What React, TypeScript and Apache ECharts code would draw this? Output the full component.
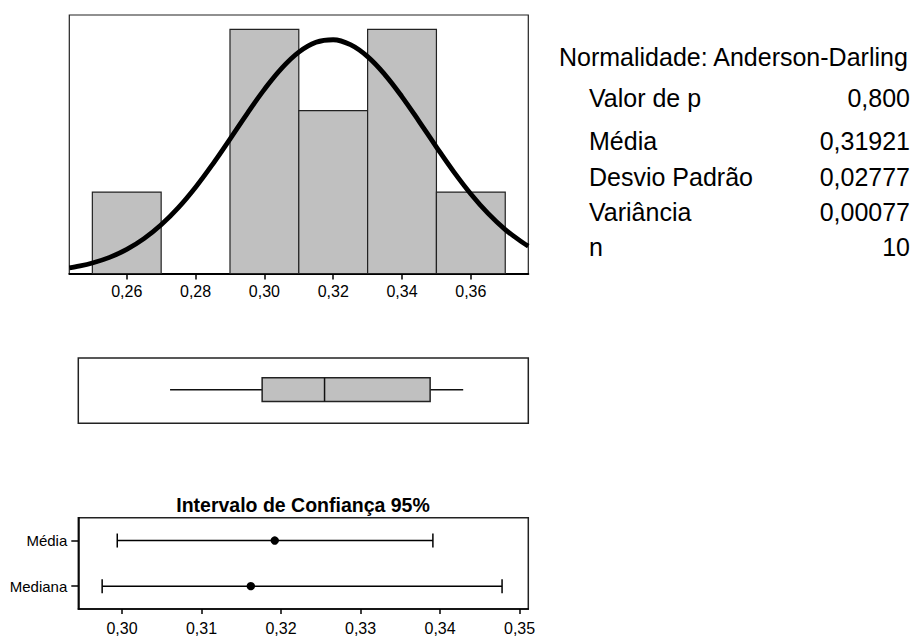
import React, { useEffect, useRef } from "react";
import * as echarts from "echarts";

// Histogram bins
const binStart = [0.25, 0.27, 0.29, 0.31, 0.33, 0.35];
const binEnd = [0.27, 0.29, 0.31, 0.33, 0.35, 0.37];
const binCount = [1, 0, 3, 2, 3, 1];

// Fitted normal curve
const curveX = [0.2433, 0.245, 0.25, 0.255, 0.26, 0.265, 0.27, 0.275, 0.28, 0.285, 0.29, 0.295, 0.3, 0.305, 0.31, 0.315, 0.32, 0.325, 0.33, 0.335, 0.34, 0.345, 0.35, 0.355, 0.36, 0.365, 0.37, 0.375, 0.3767];
const curveY = [0.068, 0.081, 0.129, 0.198, 0.296, 0.428, 0.598, 0.809, 1.06, 1.345, 1.652, 1.965, 2.262, 2.52, 2.719, 2.84, 2.872, 2.811, 2.664, 2.444, 2.171, 1.867, 1.554, 1.252, 0.977, 0.738, 0.54, 0.382, 0.337];

const histTicks = [0.26, 0.28, 0.3, 0.32, 0.34, 0.36];

// Box plot: min, Q1, median, Q3, max
const boxStats = [0.2705, 0.2978, 0.3163, 0.3476, 0.3574];

// Confidence intervals
const ciCategories = ["Média", "Mediana"];
const ciLow = [0.2994, 0.2975];
const ciPoint = [0.31921, 0.3162];
const ciHigh = [0.3391, 0.3478];
const ciTicks = [0.3, 0.31, 0.32, 0.33, 0.34, 0.35];

// Summary statistics
const headerText = "Normalidade: Anderson-Darling";
const statLabels = ["Valor de p", "Média", "Desvio Padrão", "Variância", "n"];
const statValues = ["0,800", "0,31921", "0,02777", "0,00077", "10"];

const FONT = "'Liberation Sans', Arial, sans-serif";
const fmt = (v: number) => v.toFixed(2).replace(".", ",");

export default function App() {
  const ref = useRef<HTMLDivElement>(null);

  useEffect(() => {
    if (!ref.current) return;
    const chart = echarts.init(ref.current, null, { renderer: "svg" });

    const histData = binStart
      .map((s, i) => [s, binEnd[i], binCount[i]])
      .filter((d) => d[2] > 0);
    const curveData = curveX.map((x, i) => [x, curveY[i]]);
    const ciData = ciCategories.map((_, i) => [i, ciLow[i], ciPoint[i], ciHigh[i]]);

    const statRowsY = [98, 140.5, 177, 212, 247];
    const graphics: any[] = [
      {
        type: "text",
        x: 559,
        y: 57,
        style: { text: headerText, font: `25px ${FONT}`, fill: "#000", textAlign: "left", textVerticalAlign: "middle" },
      },
      {
        type: "text",
        x: 303,
        y: 505,
        style: { text: "Intervalo de Confiança 95%", font: `bold 19.5px ${FONT}`, fill: "#000", textAlign: "center", textVerticalAlign: "middle" },
      },
    ];
    statLabels.forEach((l, i) => {
      graphics.push({
        type: "text",
        x: 589,
        y: statRowsY[i],
        style: { text: l, font: `25px ${FONT}`, fill: "#000", textAlign: "left", textVerticalAlign: "middle" },
      });
      graphics.push({
        type: "text",
        x: 910,
        y: statRowsY[i],
        style: { text: statValues[i], font: `25px ${FONT}`, fill: "#000", textAlign: "right", textVerticalAlign: "middle" },
      });
    });

    const option: any = {
      animation: false,
      backgroundColor: "#fff",
      textStyle: { fontFamily: FONT },
      grid: [
        { left: 69.3, top: 15, width: 459, height: 258.5, show: true, borderColor: "#222", borderWidth: 1.2, backgroundColor: "transparent" },
        { left: 78.3, top: 358, width: 450, height: 65.3, show: true, borderColor: "#222", borderWidth: 1.5, backgroundColor: "transparent" },
        { left: 78.3, top: 517.7, width: 450, height: 93, show: true, borderColor: "#222", borderWidth: 1.5, backgroundColor: "transparent" },
      ],
      xAxis: [
        {
          gridIndex: 0,
          type: "value",
          min: 0.2433,
          max: 0.3767,
          splitLine: { show: false },
          axisLine: { show: true, lineStyle: { color: "#000", width: 2 } },
          axisTick: { show: true, customValues: histTicks, length: 6, lineStyle: { color: "#000", width: 1.5 } },
          axisLabel: { customValues: histTicks, formatter: fmt, color: "#000", fontSize: 16, margin: 10, fontFamily: FONT },
        },
        {
          gridIndex: 1,
          type: "value",
          min: 0.2433,
          max: 0.3767,
          show: false,
          splitLine: { show: false },
        },
        {
          gridIndex: 2,
          type: "value",
          min: 0.2945,
          max: 0.3511,
          splitLine: { show: false },
          axisLine: { show: true, lineStyle: { color: "#000", width: 1.5 } },
          axisTick: { show: true, customValues: ciTicks, length: 5, lineStyle: { color: "#000", width: 1.5 } },
          axisLabel: { customValues: ciTicks, formatter: fmt, color: "#000", fontSize: 16, margin: 11, fontFamily: FONT },
        },
      ],
      yAxis: [
        { gridIndex: 0, type: "value", min: 0, max: 3.176, show: false, splitLine: { show: false } },
        { gridIndex: 1, type: "value", min: 0, max: 1, show: false, splitLine: { show: false } },
        {
          gridIndex: 2,
          type: "category",
          data: ciCategories,
          inverse: true,
          boundaryGap: true,
          axisLine: { show: true, lineStyle: { color: "#000", width: 1.5 } },
          axisTick: { show: true, alignWithLabel: true, length: 7, lineStyle: { color: "#000", width: 1.5 } },
          axisLabel: { color: "#000", fontSize: 15, margin: 11, fontFamily: FONT },
          splitLine: { show: false },
        },
      ],
      series: [
        {
          type: "custom",
          xAxisIndex: 0,
          yAxisIndex: 0,
          data: histData,
          encode: { x: [0, 1], y: 2 },
          renderItem: (params: any, api: any) => {
            const tl = api.coord([api.value(0), api.value(2)]);
            const br = api.coord([api.value(1), 0]);
            return {
              type: "rect",
              shape: { x: tl[0], y: tl[1], width: br[0] - tl[0], height: br[1] - tl[1] },
              style: { fill: "#c0c0c0", stroke: "#222", lineWidth: 1.2 },
            };
          },
          z: 2,
        },
        {
          type: "line",
          xAxisIndex: 0,
          yAxisIndex: 0,
          data: curveData,
          smooth: 0.4,
          showSymbol: false,
          symbol: "none",
          lineStyle: { color: "#000", width: 4.8 },
          z: 5,
        },
        {
          type: "custom",
          xAxisIndex: 1,
          yAxisIndex: 1,
          data: [boxStats],
          encode: { x: [0, 1, 2, 3, 4] },
          renderItem: (params: any, api: any) => {
            const yc = api.coord([boxStats[0], 0.5])[1] - 1;
            const h = 11.8;
            const px = [0, 1, 2, 3, 4].map((k) => api.coord([api.value(k), 0.5])[0]);
            const ls = { stroke: "#111", lineWidth: 1.5 };
            return {
              type: "group",
              children: [
                { type: "line", shape: { x1: px[0], y1: yc, x2: px[1], y2: yc }, style: ls },
                { type: "line", shape: { x1: px[3], y1: yc, x2: px[4], y2: yc }, style: ls },
                { type: "rect", shape: { x: px[1], y: yc - h, width: px[3] - px[1], height: 2 * h }, style: { fill: "#c0c0c0", stroke: "#222", lineWidth: 1.5 } },
                { type: "line", shape: { x1: px[2], y1: yc - h, x2: px[2], y2: yc + h }, style: ls },
              ],
            };
          },
        },
        {
          type: "custom",
          xAxisIndex: 2,
          yAxisIndex: 2,
          data: ciData,
          encode: { x: [1, 2, 3], y: 0 },
          renderItem: (params: any, api: any) => {
            const idx = api.value(0);
            const lo = api.coord([api.value(1), idx]);
            const pt = api.coord([api.value(2), idx]);
            const hi = api.coord([api.value(3), idx]);
            const cap = 7;
            const ls = { stroke: "#000", lineWidth: 1.5 };
            return {
              type: "group",
              children: [
                { type: "line", shape: { x1: lo[0], y1: lo[1], x2: hi[0], y2: hi[1] }, style: ls },
                { type: "line", shape: { x1: lo[0], y1: lo[1] - cap, x2: lo[0], y2: lo[1] + cap }, style: ls },
                { type: "line", shape: { x1: hi[0], y1: hi[1] - cap, x2: hi[0], y2: hi[1] + cap }, style: ls },
                { type: "circle", shape: { cx: pt[0], cy: pt[1], r: 4.2 }, style: { fill: "#000" } },
              ],
            };
          },
        },
      ],
      graphic: graphics,
    };

    chart.setOption(option);
    return () => chart.dispose();
  }, []);

  return (
    <div
      ref={ref}
      style={{ position: "fixed", left: 0, top: 0, width: 923, height: 636, background: "#fff" }}
    />
  );
}
